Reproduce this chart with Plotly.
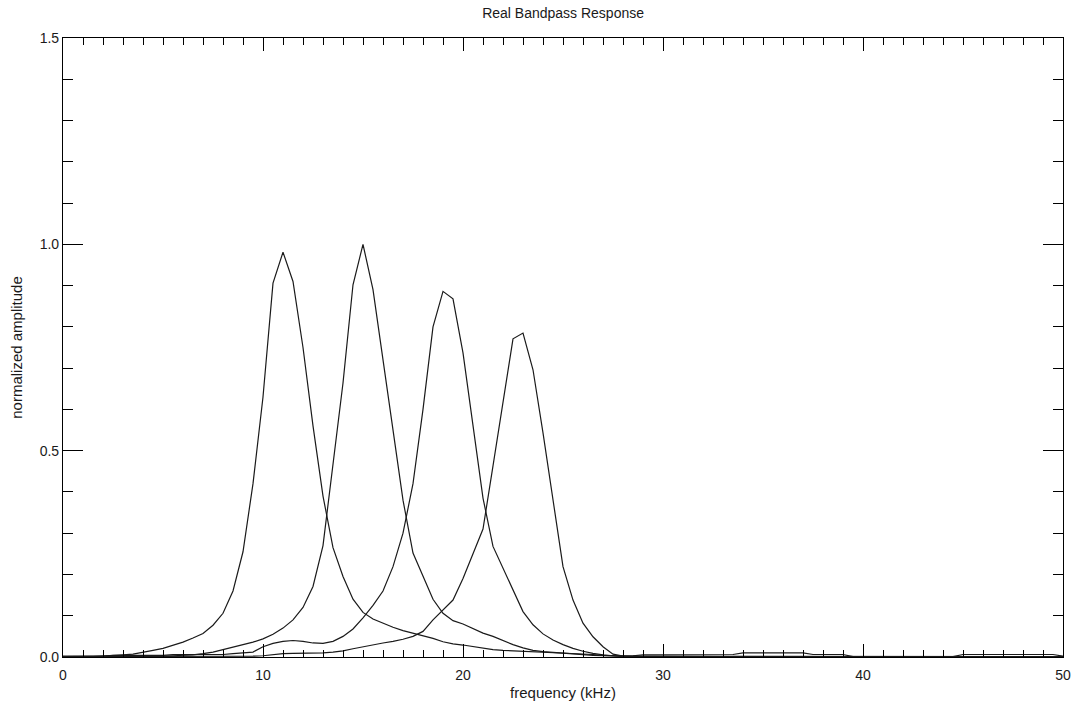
import plotly.graph_objects as go

# Frequency grid of the filter bank response (kHz), 0.5 kHz steps from 0 to 50
freq_khz = [i * 0.5 for i in range(101)]

# Normalized amplitude of each bandpass channel, one value per frequency sample
band_11k = [
    0.000, 0.000, 0.000, 0.001, 0.002, 0.003, 0.005, 0.007, 0.011, 0.016,
    0.021, 0.028, 0.036, 0.046, 0.057, 0.077, 0.106, 0.160, 0.255, 0.420,
    0.630, 0.906, 0.981, 0.910, 0.750, 0.560, 0.390, 0.265, 0.195, 0.140,
    0.108, 0.092, 0.082, 0.072, 0.064, 0.058, 0.052, 0.045, 0.037, 0.032,
    0.029, 0.025, 0.021, 0.018, 0.016, 0.015, 0.014, 0.013, 0.011, 0.010,
    0.009, 0.008, 0.007, 0.006, 0.004, 0.003, 0.002, 0.002, 0.001, 0.001,
    0.001, 0.001, 0.001, 0.001, 0.001, 0.001, 0.001, 0.001, 0.001, 0.001,
    0.001, 0.001, 0.001, 0.001, 0.001, 0.001, 0.001, 0.001, 0.001, 0.001,
    0.001, 0.001, 0.001, 0.001, 0.001, 0.001, 0.001, 0.001, 0.001, 0.001,
    0.001, 0.001, 0.001, 0.001, 0.001, 0.001, 0.001, 0.001, 0.001, 0.001,
    0.001,
]

band_15k = [
    0.001, 0.001, 0.001, 0.001, 0.001, 0.001, 0.001, 0.001, 0.001, 0.001,
    0.002, 0.003, 0.004, 0.005, 0.008, 0.012, 0.018, 0.024, 0.030, 0.036,
    0.044, 0.055, 0.070, 0.090, 0.120, 0.171, 0.270, 0.460, 0.664, 0.902,
    1.000, 0.890, 0.720, 0.543, 0.380, 0.252, 0.195, 0.140, 0.106, 0.088,
    0.080, 0.068, 0.058, 0.050, 0.040, 0.030, 0.022, 0.016, 0.013, 0.011,
    0.009, 0.007, 0.005, 0.004, 0.003, 0.002, 0.002, 0.002, 0.002, 0.002,
    0.002, 0.002, 0.002, 0.002, 0.002, 0.002, 0.002, 0.002, 0.002, 0.002,
    0.002, 0.002, 0.002, 0.002, 0.002, 0.002, 0.002, 0.002, 0.001, 0.001,
    0.001, 0.001, 0.001, 0.001, 0.001, 0.001, 0.001, 0.001, 0.001, 0.001,
    0.001, 0.001, 0.001, 0.001, 0.001, 0.001, 0.001, 0.001, 0.001, 0.001,
    0.001,
]

band_19k = [
    0.002, 0.002, 0.002, 0.002, 0.002, 0.004, 0.004, 0.004, 0.004, 0.004,
    0.004, 0.006, 0.006, 0.006, 0.006, 0.006, 0.006, 0.008, 0.010, 0.012,
    0.025, 0.033, 0.038, 0.040, 0.038, 0.034, 0.033, 0.038, 0.050, 0.068,
    0.095, 0.125, 0.160, 0.219, 0.300, 0.420, 0.600, 0.800, 0.886, 0.868,
    0.737, 0.560, 0.385, 0.268, 0.215, 0.160, 0.110, 0.078, 0.056, 0.041,
    0.030, 0.021, 0.014, 0.009, 0.005, 0.003, 0.001, 0.001, 0.001, 0.001,
    0.001, 0.001, 0.001, 0.001, 0.001, 0.001, 0.001, 0.001, 0.001, 0.001,
    0.001, 0.001, 0.001, 0.001, 0.001, 0.001, 0.001, 0.001, 0.001, 0.001,
    0.001, 0.001, 0.001, 0.001, 0.001, 0.001, 0.001, 0.001, 0.001, 0.001,
    0.001, 0.001, 0.001, 0.001, 0.001, 0.001, 0.001, 0.001, 0.001, 0.001,
    0.001,
]

band_23k = [
    0.001, 0.001, 0.001, 0.001, 0.001, 0.001, 0.001, 0.001, 0.001, 0.001,
    0.001, 0.001, 0.001, 0.001, 0.001, 0.001, 0.001, 0.001, 0.001, 0.002,
    0.003, 0.006, 0.008, 0.009, 0.009, 0.010, 0.010, 0.012, 0.015, 0.020,
    0.025, 0.030, 0.034, 0.038, 0.043, 0.050, 0.062, 0.090, 0.115, 0.138,
    0.190, 0.250, 0.310, 0.463, 0.620, 0.771, 0.785, 0.696, 0.543, 0.381,
    0.219, 0.138, 0.082, 0.049, 0.025, 0.007, 0.002, 0.003, 0.005, 0.005,
    0.005, 0.005, 0.005, 0.006, 0.006, 0.006, 0.006, 0.006, 0.010, 0.010,
    0.011, 0.011, 0.011, 0.010, 0.010, 0.006, 0.006, 0.006, 0.006, 0.001,
    0.001, 0.001, 0.001, 0.001, 0.001, 0.001, 0.001, 0.001, 0.001, 0.001,
    0.006, 0.006, 0.006, 0.006, 0.006, 0.006, 0.006, 0.006, 0.006, 0.006,
    0.002,
]

channels = [band_11k, band_15k, band_19k, band_23k]

x_ticks = [0, 10, 20, 30, 40, 50]
y_ticks = [0.0, 0.5, 1.0, 1.5]
y_tick_text = ["0.0", "0.5", "1.0", "1.5"]

FONT = "Liberation Sans"
INK = "#1a1a1a"

fig = go.Figure()
for amp in channels:
    fig.add_trace(go.Scatter(
        x=freq_khz, y=amp, mode="lines",
        line=dict(color=INK, width=1.2),
        showlegend=False, hoverinfo="skip",
    ))

axis_common = dict(
    showgrid=False, zeroline=False, automargin=False,
    showline=True, linecolor="black", linewidth=1.2,
    ticks="inside", tickcolor="black", tickwidth=1,
    tickfont=dict(family=FONT, size=14, color=INK),
)

fig.update_layout(
    width=1076, height=703,
    margin=dict(l=63, r=13, t=38, b=46),
    paper_bgcolor="white", plot_bgcolor="white",
    title=dict(
        text="Real Bandpass Response",
        x=0.5233, xanchor="center", y=0.982, yanchor="middle",
        font=dict(family=FONT, size=14, color=INK),
    ),
    xaxis=dict(
        **axis_common,
        range=[0, 50], tickvals=x_ticks, ticklen=13, mirror="allticks",
        ticklabelstandoff=5,
        minor=dict(dtick=1, ticks="inside", ticklen=7, tickcolor="black", tickwidth=1),
        title=dict(text="frequency (kHz)", standoff=5,
                   font=dict(family=FONT, size=15, color=INK)),
    ),
    yaxis=dict(
        **axis_common,
        range=[0, 1.5], tickvals=y_ticks, ticktext=y_tick_text, ticklen=20,
        mirror="allticks",
        minor=dict(dtick=0.1, ticks="inside", ticklen=10, tickcolor="black", tickwidth=1),
        title=dict(text="normalized amplitude", standoff=13,
                   font=dict(family=FONT, size=15, color=INK)),
    ),
)

fig.write_html("out.html")
